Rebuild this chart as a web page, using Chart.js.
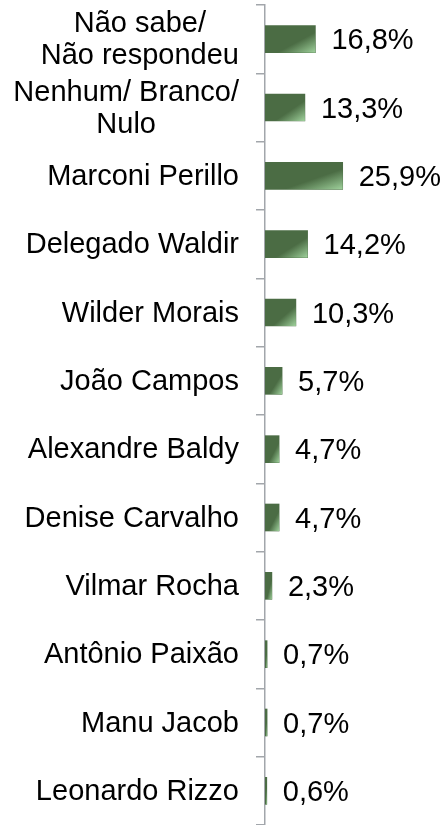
<!DOCTYPE html>
<html>
<head>
<meta charset="utf-8">
<script src="https://cdn.jsdelivr.net/npm/chart.js@4/dist/chart.umd.min.js"></script>
<style>
body{margin:0;background:#fff;}
#wrap{width:444px;height:825px;position:relative;}
</style>
</head>
<body>
<div id="wrap"><canvas id="canvasVotos"></canvas></div>
<script>

let candidatos=[
    ['Não sabe/','Não respondeu'],
    ['Nenhum/ Branco/','Nulo'],
    ['Marconi Perillo'],
    ['Delegado Waldir'],
    ['Wilder Morais'],
    ['João Campos'],
    ['Alexandre Baldy'],
    ['Denise Carvalho'],
    ['Vilmar Rocha'],
    ['Antônio Paixão'],
    ['Manu Jacob'],
    ['Leonardo Rizzo']
]

let percentuais=[16.8,13.3,25.9,14.2,10.3,5.7,4.7,4.7,2.3,0.7,0.7,0.6]

let rotulos=['16,8%','13,3%','25,9%','14,2%','10,3%','5,7%','4,7%','4,7%','2,3%','0,7%','0,7%','0,6%']


let fonte='29px "Liberation Sans", Arial, sans-serif'

// diagonal light corner on each bar (in bar box coordinates) + value label
let barrasPlugin={
    id:'barras',
    afterDatasetsDraw(chart){
        let ctx=chart.ctx
        let meta=chart.getDatasetMeta(0)
        meta.data.forEach(function(bar,i){
            let left=bar.base
            let right=bar.x
            let top=bar.y-bar.height/2
            let w=right-left
            let h=bar.height
            ctx.save()
            ctx.translate(left,top)
            ctx.scale(w,h)
            let g=ctx.createLinearGradient(0,0,1,1)
            g.addColorStop(0,'rgba(156,207,153,0)')
            g.addColorStop(0.62,'rgba(156,207,153,0)')
            g.addColorStop(1,'rgba(160,210,157,1)')
            ctx.fillStyle=g
            ctx.fillRect(0,0,1,1)
            ctx.restore()

            ctx.save()
            ctx.fillStyle='#000'
            ctx.font=fonte
            ctx.textAlign='left'
            ctx.textBaseline='middle'
            ctx.fillText(rotulos[i],right+16,bar.y+2)
            ctx.restore()
        })
    }
}

// category names, lines centred on each other, block right aligned
let nomesPlugin={
    id:'nomes',
    afterDraw(chart){
        let ctx=chart.ctx
        let y=chart.scales.y
        ctx.save()
        ctx.font=fonte
        ctx.fillStyle='#000'
        ctx.textAlign='center'
        ctx.textBaseline='middle'
        let lineH=32
        for (let i=0;i<candidatos.length;i++){
            let linhas=candidatos[i]
            let maxW=0
            linhas.forEach(function(t){maxW=Math.max(maxW,ctx.measureText(t).width)})
            let cx=239-maxW/2
            let cy=y.getPixelForValue(i)
            let y0=cy-(linhas.length-1)*lineH/2
            for (let j=0;j<linhas.length;j++){
                ctx.fillText(linhas[j],cx,y0+j*lineH+1)
            }
        }
        ctx.restore()
    }
}

function buildVotos(){
    let nomes=candidatos.map(function(c){return c.join(' ')})

    let myChart={
        type:'bar',
        data:{
            labels:nomes,
            datasets:[{
                label:'Votos',
                data:percentuais,
                backgroundColor:'#4b6c44',
                borderWidth:0,
                barThickness:27
            }]
        },
        options:{
            indexAxis:'y',
            responsive:true,
            maintainAspectRatio:false,
            animation:false,
            layout:{padding:{top:5,right:89,bottom:0,left:0}},
            plugins:{
                legend:{display:false},
                tooltip:{enabled:false}
            },
            scales:{
                x:{
                    display:false,
                    min:0,
                    max:30
                },
                y:{
                    afterFit:function(scale){scale.width=265},
                    ticks:{display:false},
                    grid:{
                        offset:true,
                        drawOnChartArea:false,
                        drawTicks:true,
                        tickLength:9,
                        tickColor:'#a2a6ab',
                        lineWidth:1.5
                    },
                    border:{display:true,color:'#a2a6ab',width:1.5}
                }
            }
        },
        plugins:[barrasPlugin,nomesPlugin]
    }

    let ctx=document.getElementById('canvasVotos').getContext('2d')
    new Chart(ctx,myChart)
}

buildVotos()
</script>
</body>
</html>
